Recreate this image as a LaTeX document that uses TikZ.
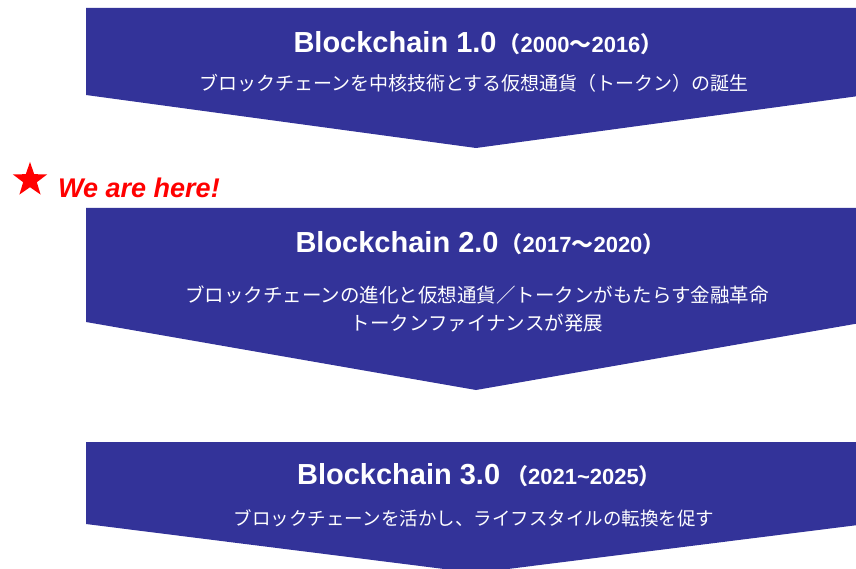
\documentclass[tikz,border=0pt]{standalone}
\usepackage{fontspec}
\setmainfont{Liberation Sans}
\newfontfamily\cjk{Noto Sans CJK JP}
\definecolor{chevblue}{RGB}{51,51,153}
\definecolor{herered}{RGB}{255,0,0}
\begin{document}
\begin{tikzpicture}[x=1pt,y=-1pt,
  chev/.style={fill=chevblue,draw=none},
  titletxt/.style={text=white,inner sep=0pt,anchor=center,font=\fontsize{29}{32}\selectfont\bfseries},
  subtxt/.style={text=white,inner sep=0pt,anchor=center,align=center,font=\cjk\fontsize{19}{28}\selectfont}]
\useasboundingbox (0,0) rectangle (856,569);
\begin{scope}
\clip (0,0) rectangle (856,569);
% chevrons
\fill[chev] (86,8) -- (866,8) -- (866,95) -- (476,148) -- (86,95) -- cycle;
\fill[chev] (86,208) -- (866,208) -- (866,322) -- (476,390) -- (86,322) -- cycle;
\fill[chev] (86,442) -- (866,442) -- (866,524) -- (476,573) -- (86,524) -- cycle;
\end{scope}
% titles
\newcommand{\yrs}[3]{{\fontsize{22}{24}\selectfont\bfseries{\cjk （}#1{#3}#2{\cjk ）}}}
\node[titletxt] (t1) at (478,43) {Blockchain 1.0\hspace{2pt}\yrs{2000}{2016}{\cjk ～}};
\node[subtxt] (s1) at (474,83) {ブロックチェーンを中核技術とする仮想通貨（トークン）の誕生};
\node[titletxt] (t2) at (480,243) {Blockchain 2.0\hspace{2pt}\yrs{2017}{2020}{\cjk ～}};
\node[subtxt,font=\cjk\fontsize{19.5}{28}\selectfont] (s2) at (477,309) {ブロックチェーンの進化と仮想通貨／トークンがもたらす金融革命\\トークンファイナンスが発展};
\node[titletxt] (t3) at (479,475) {Blockchain 3.0\hspace{6pt}\yrs{2021}{2025}{\bfseries\char`\~}};
\node[subtxt,font=\cjk\fontsize{18.5}{28}\selectfont] (s3) at (474,518) {ブロックチェーンを活かし、ライフスタイルの転換を促す};
% we are here
\fill[herered] (30,162)
  \foreach \i in {1,...,9}{ -- ({30+ifthenelse(mod(\i,2)==0,18,7.2)*sin(36*\i)},{180-ifthenelse(mod(\i,2)==0,18,7.2)*cos(36*\i)}) } -- cycle;
\node[text=herered,anchor=west,inner sep=0pt,font=\fontsize{27}{30}\selectfont\bfseries\itshape] (here) at (58,188) {We are here!};
\end{tikzpicture}
\end{document}
